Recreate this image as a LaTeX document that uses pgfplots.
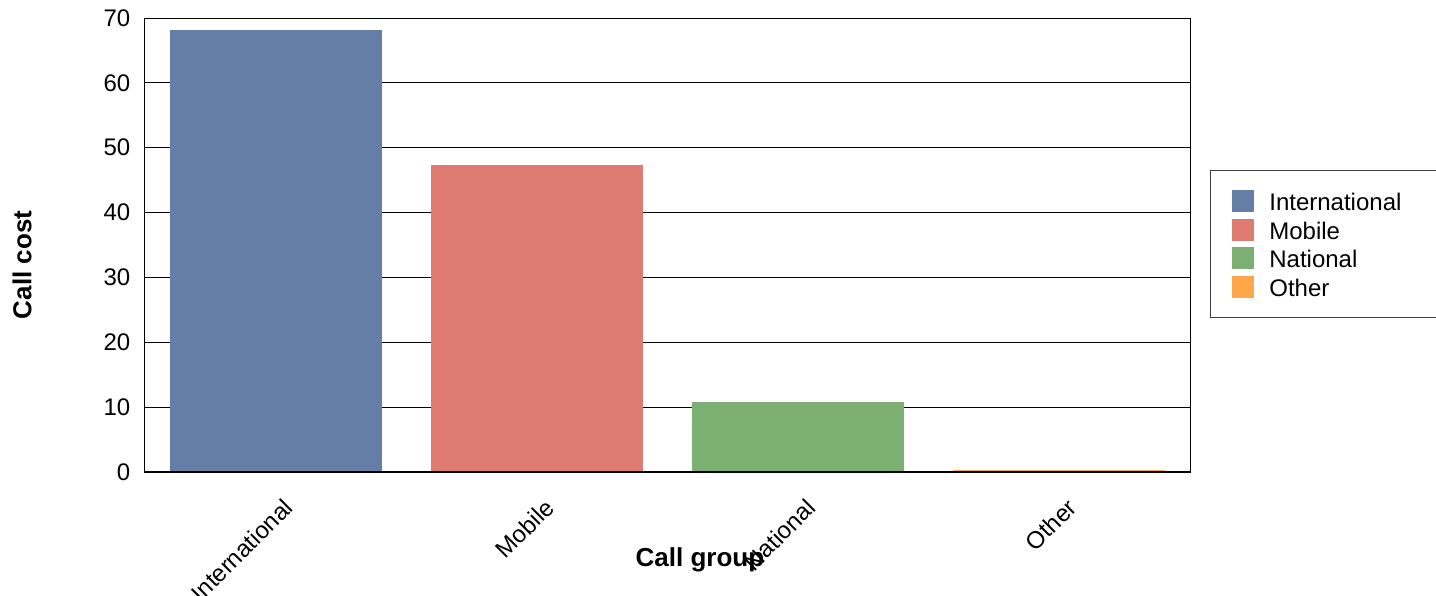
\documentclass[border=0pt]{standalone}
\usepackage{pgfplots}
\pgfplotsset{compat=1.18}
\usepackage{fontspec}
\setmainfont{Liberation Sans}

\definecolor{cIntl}{RGB}{100,126,166}
\definecolor{cMob}{RGB}{224,123,116}
\definecolor{cNat}{RGB}{123,176,114}
\definecolor{cOth}{RGB}{253,166,74}

\begin{document}
\begin{tikzpicture}
\begin{axis}[
    at={(0,0)}, anchor=south west,
    scale only axis,
    width=522.5pt, height=227pt,
    xmin=-0.5, xmax=3.5,
    ymin=0, ymax=70,
    ytick={0,10,...,70},
    xtick={0,1,2,3},
    xticklabels={International,Mobile,National,Other},
    major tick length=0pt,
    ymajorgrids,
    grid style={black, line width=0.5pt},
    axis line style={black, line width=0.5pt},
    font=\fontsize{12}{14}\selectfont,
    /pgf/number format/assume math mode=true,
    yticklabel style={xshift=-3.8pt},
    xticklabel style={rotate=45, anchor=east, inner sep=0pt, xshift=-6.5pt, yshift=-15.7pt},
    xlabel={\bfseries Call group},
    ylabel={\bfseries Call cost},
    label style={font=\fontsize{13}{15}\selectfont},
    xlabel style={at={(axis description cs:0.531,-0.194)}, anchor=center},
    ylabel style={at={(axis description cs:-0.1177,0.456)}, anchor=center},
    legend style={at={(axis description cs:1.019,0.665)}, anchor=north west,
        draw=black!75, line width=0.5pt,
        inner xsep=11pt, inner ysep=9.5pt,
        font=\fontsize{12}{14}\selectfont,
        row sep=2.75pt,
        nodes={text height=10.5pt, text depth=1pt, inner xsep=7.5pt, inner ysep=0pt, text width=85pt}},
    legend cell align=left,
    legend image code/.code={\fill[#1] (0pt,-5.5pt) rectangle (11pt,5.5pt);},
]
\addplot[ybar, bar width=106pt, bar shift=0pt, fill=cIntl, draw=none] coordinates {(0,68.1)};
\addplot[ybar, bar width=106pt, bar shift=0pt, fill=cMob, draw=none] coordinates {(1,47.3)};
\addplot[ybar, bar width=106pt, bar shift=0pt, fill=cNat, draw=none] coordinates {(2,10.8)};
\addplot[ybar, bar width=106pt, bar shift=0pt, fill=cOth, draw=none] coordinates {(3,0.25)};
\legend{International,Mobile,National,Other}
\draw[black, line width=1pt] (rel axis cs:0,0) -- (rel axis cs:1,0);
\end{axis}
\pgfresetboundingbox
\useasboundingbox (-72.5pt,-61.5pt) rectangle (645.5pt,236pt);
\end{tikzpicture}
\end{document}
